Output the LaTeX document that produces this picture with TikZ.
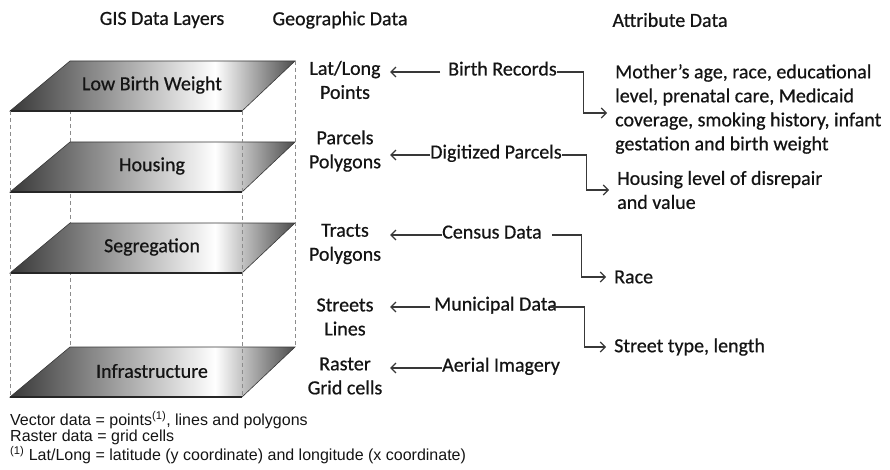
\documentclass[tikz,border=0pt]{standalone}
\usepackage{fontspec}
\setmainfont{Carlito}[FakeBold=0.6]
\newfontfamily\notefont{Liberation Sans}
\usetikzlibrary{arrows.meta,positioning,calc,backgrounds}
\definecolor{Ink}{HTML}{141414}
\definecolor{Edge}{HTML}{383838}
\definecolor{Guide}{HTML}{8C8C8C}
% dark rim, white band towards the right, dark again at the far edge
\pgfdeclarehorizontalshading{layerfill}{100bp}{color(0bp)=(black!78); color(25bp)=(black!78); color(61bp)=(white); color(75bp)=(black!70); color(100bp)=(black!70)}

\begin{document}
\begin{tikzpicture}[
        %Environment Cfg.
        x=1pt, y=-1pt,
        font=\fontsize{20}{24}\selectfont,
        text=Ink,
        >={Straight Barb[length=5pt,width=10pt]},%from arrows.meta
        %Environment Styles.
        head/.style={inner sep=0pt},
        layerText/.style={inner sep=0pt},
        geoBox/.style={align=center, minimum width=90pt, inner sep=0pt},
        srcBox/.style={anchor=west, inner sep=0pt, text height=13pt, text depth=6pt},
        attBox/.style={anchor=west, align=left, inner xsep=8pt, inner ysep=0pt},
        noteBox/.style={anchor=north west, align=left, inner sep=0pt,
            font=\notefont\fontsize{16}{16}\selectfont},
        link/.style={->, draw=Edge, line width=1.1pt},
        guide/.style={draw=Guide, dash pattern=on 4pt off 3pt, line width=0.8pt},
    ]
    \useasboundingbox (0,0) rectangle (890,470);

    %One slanted map layer: \Layer[name]{top y}{label}
    \def\Layer[#1]#2#3{
        \begin{scope}[shift={(0,#2)}]
            \shade[shading=layerfill, draw=Edge, line width=0.6pt]
                (70,0) coordinate (tl-#1) -- (295,0) coordinate (tr-#1)
                -- (242,50) coordinate (br-#1) -- (10,50) coordinate (bl-#1) -- cycle;
            \draw[line width=2pt, black!85] (bl-#1) -- (br-#1);
            \node[layerText] (#1) at (152,24) {#3};
        \end{scope}
    }

    %Column titles.
    \node[head] (H-GIS) at (162,20) {GIS Data Layers};
    \node[head] (H-GEO) at (340,20) {Geographic Data};
    \node[head] (H-ATT) at (670,20) {Attribute Data};

    %Stack of layers.
    \Layer[LBW]{61}{Low Birth Weight}
    \Layer[HSG]{142}{Housing}
    \Layer[SEG]{223}{Segregation}
    \Layer[INF]{347}{Infrastructure}

    \begin{scope}[on background layer] % from tikzlibrary backgrounds
        \draw[guide] (tl-LBW) -- (tl-INF);
    \end{scope}
    \draw[guide] (bl-LBW) -- (bl-INF);
    \draw[guide] (br-LBW) -- (br-INF);
    \draw[guide] (tr-LBW) -- (tr-INF);

    %Geographic data.
    \node[geoBox] (LL) at (345,80) {Lat/Long\\Points};
    \node[geoBox] (PP) at (345,151) {Parcels\\Polygons};
    \node[geoBox] (TP) at (345,244) {Tracts\\Polygons};
    \node[geoBox] (SL) at (345,317) {Streets\\Lines};
    \node[geoBox] (RG) at (345,376) {Raster\\Grid cells};

    %Data sources.
    \node[srcBox] (BR) at (448,72) {Birth Records};
    \node[srcBox] (DP) at (430,155) {Digitized Parcels};
    \node[srcBox] (CD) at (442,235) {Census Data};
    \node[srcBox] (MD) at (434,307) {Municipal Data};
    \node[srcBox] (AI) at (442,368) {Aerial Imagery};

    %Attributes.
    \node[attBox] (MA) at (607,109) {Mother’s age, race, educational\\level, prenatal care, Medicaid\\coverage, smoking history, infant\\gestation and birth weight};
    \node[attBox] (HL) at (609,190) {Housing level of disrepair\\and value};
    \node[attBox] (RC) at (606,277) {Race};
    \node[attBox] (ST) at (606,347) {Street type, length};

    %Arrows.
    \draw[link] ([xshift=-8pt]BR.west) -- (BR.west -| LL.east);
    \draw[link] (DP.west) -- (DP.west -| PP.east);
    \draw[link] (CD.west) -- (CD.west -| TP.east);
    \draw[link] ([xshift=-4pt]MD.west) -- (MD.west -| SL.east);
    \draw[link] (AI.west) -- (AI.west -| RG.east);

    \draw[link] (BR.east) -- ++(27,0) |- ([yshift=-4pt]MA.west);
    \draw[link] (DP.east) -- ++(25,0) |- (HL.west);
    \draw[link] ([xshift=10pt]CD.east) -- ++(30,0) |- (RC.west);
    \draw[link] ([xshift=-7pt]MD.east) -- ++(34,0) |- (ST.west);

    %Notes.
    \node[noteBox] (NOTE) at (10,411) {Vector data = points\textsuperscript{(1)}, lines and polygons\\Raster data = grid cells\\\textsuperscript{(1)} Lat/Long = latitude (y coordinate) and longitude (x coordinate)};
\end{tikzpicture}
\end{document}
